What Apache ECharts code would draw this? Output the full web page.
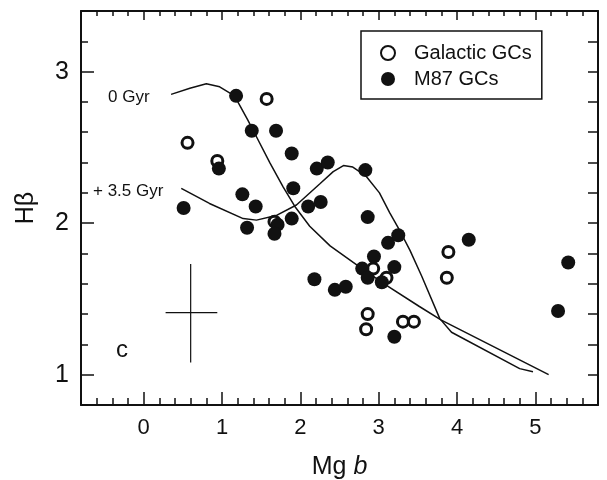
<!DOCTYPE html>
<html>
<head>
<meta charset="utf-8">
<script src="https://cdn.jsdelivr.net/npm/echarts@6/dist/echarts.min.js"></script>
<style>
  html, body { margin: 0; padding: 0; background: #fff; }
  #chart { width: 607px; height: 480px; }
</style>
</head>
<body>
<div id="chart"></div>
<script>
// Mg b vs H beta
const galacticGCs = [
  [0.56, 2.53], [0.94, 2.41], [1.57, 2.82], [1.67, 2.01],
  [2.93, 1.70], [3.10, 1.64], [3.89, 1.81], [3.87, 1.64],
  [2.86, 1.40], [2.84, 1.30], [3.31, 1.35], [3.45, 1.35]
]
const m87GCs = [
  [1.18, 2.84], [1.38, 2.61], [1.69, 2.61], [1.89, 2.46], [0.96, 2.36],
  [2.21, 2.36], [2.35, 2.40], [2.83, 2.35], [1.26, 2.19], [1.91, 2.23],
  [0.51, 2.10], [1.43, 2.11], [2.10, 2.11], [2.26, 2.14], [1.32, 1.97],
  [1.71, 1.99], [1.89, 2.03], [1.67, 1.93], [2.86, 2.04], [3.12, 1.87],
  [3.25, 1.92], [4.15, 1.89], [2.94, 1.78], [2.79, 1.70], [2.86, 1.64],
  [3.20, 1.71], [3.04, 1.61], [2.18, 1.63], [2.44, 1.56], [2.58, 1.58],
  [3.20, 1.25], [5.42, 1.74], [5.29, 1.42]
]
// model tracks
const track0Gyr = [
  [0.35, 2.85], [0.59, 2.89], [0.80, 2.92], [0.97, 2.90], [1.16, 2.84],
  [1.33, 2.68], [1.44, 2.57], [1.61, 2.40], [1.78, 2.24], [1.93, 2.11],
  [2.12, 1.98], [2.38, 1.85], [2.76, 1.71], [3.10, 1.59], [3.52, 1.45],
  [3.80, 1.36], [5.17, 1.00]
]
const track35Gyr = [
  [0.48, 2.23], [0.84, 2.13], [1.27, 2.03], [1.44, 2.02], [1.69, 2.05],
  [1.95, 2.12], [2.25, 2.26], [2.42, 2.34], [2.55, 2.38], [2.67, 2.37],
  [2.84, 2.31], [3.01, 2.20], [3.14, 2.07], [3.27, 1.95], [3.40, 1.82],
  [3.55, 1.65], [3.78, 1.37], [3.93, 1.28], [4.80, 1.04], [4.97, 1.02]
]
// typical error bar
const errH = [[0.28, 1.41], [0.94, 1.41]]
const errV = [[0.60, 1.08], [0.60, 1.73]]

const xMajor = [0, 1, 2, 3, 4, 5]
const yMajor = [1, 2, 3]

const font = 'Liberation Sans, Arial, Helvetica, sans-serif'
const ink = '#111'

const grid = {left: 81, right: 9, top: 11, bottom: 75, containLabel: false, outerBoundsMode: 'none'}
const xBase = {type: 'value', min: -0.8, max: 5.8, splitLine: {show: false}}
const yBase = {type: 'value', min: 0.8, max: 3.4, splitLine: {show: false}}

const option = {
  animation: false,
  backgroundColor: '#fff',
  textStyle: {fontFamily: font, color: ink},
  grid: grid,
  legend: {
    orient: 'vertical',
    left: 361, top: 31,
    borderColor: ink, borderWidth: 1.5,
    padding: [12, 10, 10, 19],
    itemGap: 6,
    itemWidth: 14, itemHeight: 14,
    textStyle: {fontSize: 20, fontFamily: font, color: ink, padding: [0, 0, 0, 14]},
    data: ['Galactic GCs', 'M87 GCs']
  },
  xAxis: [
    // bottom minor ticks + frame line
    Object.assign({}, xBase, {
      position: 'bottom', interval: 0.2,
      axisLine: {show: true, onZero: false, lineStyle: {color: ink, width: 2}},
      axisTick: {show: true, inside: true, length: 7, lineStyle: {color: ink, width: 1.5}},
      axisLabel: {show: false}
    }),
    // bottom major ticks + labels
    Object.assign({}, xBase, {
      position: 'bottom',
      axisLine: {show: false, onZero: false},
      axisTick: {show: true, inside: true, length: 13, customValues: xMajor, lineStyle: {color: ink, width: 1.5}},
      axisLabel: {show: true, customValues: xMajor, fontSize: 22, margin: 12, color: ink, fontFamily: font},
      name: 'Mg {i|b}', nameLocation: 'middle', nameGap: 50,
      nameTextStyle: {fontSize: 25, color: ink, fontFamily: font,
        rich: {i: {fontSize: 25, fontStyle: 'italic', color: ink, fontFamily: font}}}
    }),
    // top
    Object.assign({}, xBase, {
      position: 'top', interval: 0.2,
      axisLine: {show: true, onZero: false, lineStyle: {color: ink, width: 2}},
      axisTick: {show: true, inside: true, length: 5, lineStyle: {color: ink, width: 1.5}},
      axisLabel: {show: false}
    }),
    Object.assign({}, xBase, {
      position: 'top',
      axisLine: {show: false, onZero: false},
      axisTick: {show: true, inside: true, length: 9, customValues: xMajor, lineStyle: {color: ink, width: 1.5}},
      axisLabel: {show: false}
    })
  ],
  yAxis: [
    Object.assign({}, yBase, {
      position: 'left', interval: 0.2,
      axisLine: {show: true, onZero: false, lineStyle: {color: ink, width: 2}},
      axisTick: {show: true, inside: true, length: 7, lineStyle: {color: ink, width: 1.5}},
      axisLabel: {show: false}
    }),
    Object.assign({}, yBase, {
      position: 'left',
      axisLine: {show: false, onZero: false},
      axisTick: {show: true, inside: true, length: 13, customValues: yMajor, lineStyle: {color: ink, width: 1.5}},
      axisLabel: {show: true, customValues: yMajor, fontSize: 25, margin: 12, color: ink, fontFamily: font},
      name: 'Hβ', nameLocation: 'middle', nameGap: 42, nameRotate: 90,
      nameTextStyle: {fontSize: 25, color: ink, fontFamily: font}
    }),
    Object.assign({}, yBase, {
      position: 'right', interval: 0.2,
      axisLine: {show: true, onZero: false, lineStyle: {color: ink, width: 2}},
      axisTick: {show: true, inside: true, length: 10, lineStyle: {color: ink, width: 1.5}},
      axisLabel: {show: false}
    })
  ],
  graphic: [
    {type: 'text', left: 108, top: 89, style: {text: '0 Gyr', font: '17px ' + font, fill: ink}},
    {type: 'text', left: 93, top: 183, style: {text: '+ 3.5 Gyr', font: '17px ' + font, fill: ink}},
    {type: 'text', left: 116, top: 338, style: {text: 'c', font: '24px ' + font, fill: ink}}
  ],
  series: [
    {
      type: 'line', data: track0Gyr, symbol: 'none', silent: true, z: 1,
      lineStyle: {color: ink, width: 1.5}
    },
    {
      type: 'line', data: track35Gyr, symbol: 'none', silent: true, z: 1,
      lineStyle: {color: ink, width: 1.5}
    },
    {
      type: 'line', data: errH, symbol: 'none', silent: true, z: 1,
      lineStyle: {color: ink, width: 1.2}
    },
    {
      type: 'line', data: errV, symbol: 'none', silent: true, z: 1,
      lineStyle: {color: ink, width: 1.2}
    },
    {
      name: 'Galactic GCs', type: 'scatter', data: galacticGCs, z: 2,
      symbol: 'circle', symbolSize: 11,
      itemStyle: {color: '#fff', borderColor: ink, borderWidth: 3, opacity: 1}
    },
    {
      name: 'M87 GCs', type: 'scatter', data: m87GCs, z: 3,
      symbol: 'circle', symbolSize: 14,
      itemStyle: {color: ink, opacity: 1}
    }
  ]
}

const myChart = echarts.init(document.getElementById('chart'), null, {renderer: 'canvas'})
myChart.setOption(option)
</script>
</body>
</html>
